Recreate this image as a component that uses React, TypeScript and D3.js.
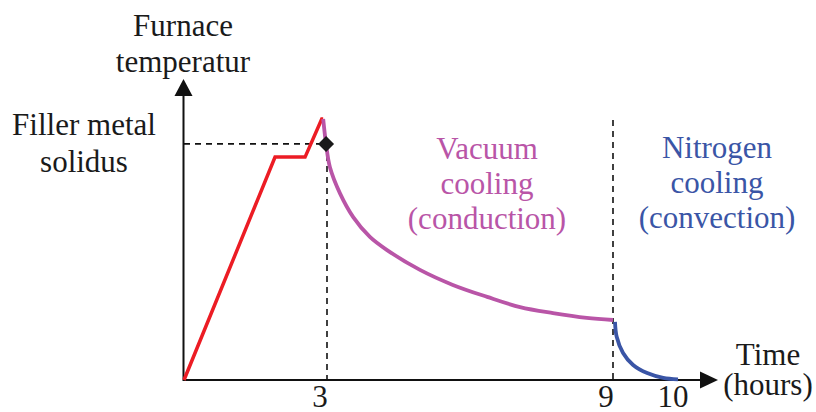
import React from "react";
import * as d3 from "d3";

// ---- data (hours, relative furnace temperature 0..100) ----
const heatHours = [0, 1.91, 2.54, 2.89, 2.92];
const heatTemp = [0, 74.3, 74.3, 87, 87];

const vacuumHours = [2.92, 2.98, 3.06, 3.27, 3.55, 3.9, 4.26, 4.95, 5.64, 6.36, 7.05, 7.74, 8.45, 9.0];
const vacuumTemp = [87.0, 78.7, 71.0, 62.3, 54.3, 47.7, 43.3, 36.7, 31.7, 27.7, 24.3, 22.3, 20.7, 20.0];

const nitrogenHours = [9.03, 9.055, 9.15, 9.3, 9.51, 9.75, 9.97];
const nitrogenTemp = [19.4, 14.4, 9.0, 5.0, 2.3, 0.7, 0.2];

const tickHours = [3, 9, 10];
const tickLabels = ["3", "9", "10"];

const solidusTemp = 78.7;
const solidusHour = 2.98;
const nitrogenStartHour = 9;
const nitrogenLineTop = 86.7;

const yTitle = ["Furnace", "temperatur"];
const xTitle = ["Time", "(hours)"];
const solidusLabel = ["Filler metal", "solidus"];
const vacuumLabel = ["Vacuum", "cooling", "(conduction)"];
const nitrogenLabel = ["Nitrogen", "cooling", "(convection)"];

const RED = "#ec1c24";
const PURPLE = "#b955a7";
const BLUE = "#3a55a6";
const FONT = '"Liberation Serif", "Times New Roman", serif';

export default function App() {
  const W = 816;
  const H = 412;
  const x = d3.scaleLinear().domain([0, 9, 10]).range([184, 613, 680]);
  const y = d3.scaleLinear().domain([0, 100]).range([380, 80]);

  const line = d3
    .line<[number, number]>()
    .x((d) => x(d[0]))
    .y((d) => y(d[1]))
    .curve(d3.curveCatmullRom.alpha(0.5));
  const straight = d3
    .line<[number, number]>()
    .x((d) => x(d[0]))
    .y((d) => y(d[1]));

  const heat = heatHours.map((h, i) => [h, heatTemp[i]] as [number, number]);
  const vac = vacuumHours.map((h, i) => [h, vacuumTemp[i]] as [number, number]);
  const nit = nitrogenHours.map((h, i) => [h, nitrogenTemp[i]] as [number, number]);

  const x0 = x(0);
  const y0 = y(0);
  const yTop = 79;
  const xEnd = 718;

  const dx = x(solidusHour);
  const dy = y(solidusTemp);
  const ts = { fontFamily: FONT, fontSize: 31 };

  return (
    <svg width={W} height={H} style={{ position: "absolute", left: 0, top: 0, background: "#fff" }}>
      <rect width={W} height={H} fill="#fff" />
      {/* dashed guides */}
      <g stroke="#111" strokeWidth={1.6} strokeDasharray="6,5" fill="none">
        <line x1={x0} x2={dx} y1={dy} y2={dy} />
        <line x1={x(3)} x2={x(3)} y1={dy} y2={y0} />
        <line x1={x(nitrogenStartHour)} x2={x(nitrogenStartHour)} y1={y(nitrogenLineTop)} y2={y0} />
      </g>
      {/* axes */}
      <g stroke="#111" strokeWidth={2} fill="none">
        <line x1={x0 - 0.5} x2={x0 - 0.5} y1={y0 + 1} y2={yTop + 14} />
        <line x1={x0} x2={xEnd - 14} y1={y0} y2={y0} />
      </g>
      <path d={`M${x0 - 0.5},${yTop} L${x0 - 9.5},${yTop + 17} L${x0 + 8.5},${yTop + 17} Z`} fill="#111" />
      <path d={`M${xEnd},${y0} L${xEnd - 18},${y0 - 8.5} L${xEnd - 18},${y0 + 8.5} Z`} fill="#111" />
      {/* curves */}
      <path d={straight(heat) || ""} fill="none" stroke={RED} strokeWidth={3.5} />
      <path d={line(vac) || ""} fill="none" stroke={PURPLE} strokeWidth={3.8} />
      <path d={line(nit) || ""} fill="none" stroke={BLUE} strokeWidth={3.8} />
      {/* solidus diamond */}
      <path d={`M${dx},${dy - 8} L${dx + 8},${dy} L${dx},${dy + 8} L${dx - 8},${dy} Z`} fill="#1a1a1a" />
      {/* tick labels */}
      <g style={ts} fill="#1a1a1a" textAnchor="middle">
        {tickHours.map((t, i) => (
          <text key={t} x={x(t) - 7} y={407}>
            {tickLabels[i]}
          </text>
        ))}
      </g>
      {/* titles */}
      <g style={ts} fill="#1a1a1a" textAnchor="middle">
        <text x={183} y={36}>{yTitle[0]}</text>
        <text x={183} y={72}>{yTitle[1]}</text>
        <text x={84} y={135}>{solidusLabel[0]}</text>
        <text x={84} y={172}>{solidusLabel[1]}</text>
        <text x={768} y={365}>{xTitle[0]}</text>
        <text x={768} y={395}>{xTitle[1]}</text>
      </g>
      <g style={ts} fill={PURPLE} textAnchor="middle">
        {vacuumLabel.map((s, i) => (
          <text key={s} x={487} y={159 + i * 35}>
            {s}
          </text>
        ))}
      </g>
      <g style={ts} fill={BLUE} textAnchor="middle">
        {nitrogenLabel.map((s, i) => (
          <text key={s} x={717} y={158 + i * 35}>
            {s}
          </text>
        ))}
      </g>
    </svg>
  );
}
